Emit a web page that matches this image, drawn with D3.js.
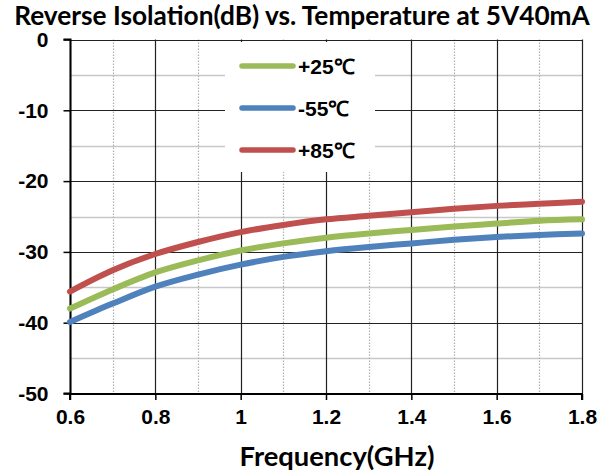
<!DOCTYPE html>
<html><head><meta charset="utf-8">
<script src="https://cdn.jsdelivr.net/npm/d3@7"></script>
<style>
body{margin:0;background:#fff;}
svg{display:block;}
</style></head>
<body>
<svg id="chart" width="603" height="473"></svg>
<script>
const title = "Reverse Isolation(dB) vs. Temperature at 5V40mA";
const xTitle = "Frequency(GHz)";
const freq = [0.6,0.7,0.8,0.9,1.0,1.1,1.2,1.3,1.4,1.5,1.6,1.7,1.8];
const s25 = [-38.0,-35.3,-32.9,-31.2,-29.8,-28.8,-28.0,-27.4,-26.9,-26.4,-26.0,-25.6,-25.4];
const sM55 = [-39.9,-37.3,-34.9,-33.2,-31.8,-30.7,-29.9,-29.3,-28.8,-28.3,-27.9,-27.6,-27.4];
const s85 = [-35.6,-32.6,-30.3,-28.6,-27.2,-26.2,-25.4,-24.9,-24.4,-23.9,-23.5,-23.2,-22.9];
const seriesNames = ["+25℃","-55℃","+85℃"];
const seriesColors = ["#9BBB59","#4F81BD","#C0504D"];
const xTicks = [0.6,0.8,1.0,1.2,1.4,1.6,1.8];
const xMinor = [0.7,0.9,1.1,1.3,1.5,1.7];
const yTicks = [0,-10,-20,-30,-40,-50];
const yMinor = [-5,-15,-25,-35,-45];

const svg = d3.select("#chart");
const L=70, R=582, T=39.5, B=393.5;
const x = d3.scaleLinear().domain([0.6,1.8]).range([L,R]);
const y = d3.scaleLinear().domain([-50,0]).range([B,T]);

// minor horizontal gridlines
svg.append("g").selectAll("line").data(yMinor).join("line")
  .attr("x1",L).attr("x2",R).attr("y1",d=>Math.round(y(d))+0.5).attr("y2",d=>Math.round(y(d))+0.5)
  .attr("stroke","#c8c8c8").attr("stroke-width",1.5);
// minor vertical dotted
svg.append("g").selectAll("line").data(xMinor).join("line")
  .attr("x1",d=>Math.round(x(d))+0.5).attr("x2",d=>Math.round(x(d))+0.5).attr("y1",T).attr("y2",B)
  .attr("stroke","#b0b0b0").attr("stroke-width",1.2).attr("stroke-dasharray","1.5,1.5");
// major gridlines
svg.append("g").selectAll("line").data(yTicks).join("line")
  .attr("x1",L).attr("x2",R).attr("y1",d=>Math.round(y(d))+0.5).attr("y2",d=>Math.round(y(d))+0.5)
  .attr("stroke","#222").attr("stroke-width",1.2);
svg.append("g").selectAll("line").data(xTicks).join("line")
  .attr("x1",d=>Math.round(x(d))+0.5).attr("x2",d=>Math.round(x(d))+0.5).attr("y1",T).attr("y2",B)
  .attr("stroke","#222").attr("stroke-width",1.2);

// axes
const yAxis = d3.axisLeft(y).tickValues(yTicks).tickSize(7).tickPadding(15).tickFormat(d=>String(d));
const gy = svg.append("g").attr("transform",`translate(${L+0.5},0)`).call(yAxis);
const xAxis = d3.axisBottom(x).tickValues(xTicks).tickSize(6).tickPadding(9).tickFormat(d=>d===1?"1":d3.format(".1f")(d));
const gx = svg.append("g").attr("transform",`translate(0,${B+0.5})`).call(xAxis);
[gx,gy].forEach(g=>{
  g.attr("font-size",null).attr("font-family",null);
  g.select(".domain").attr("stroke","#000").attr("stroke-width",2);
  g.selectAll(".tick line").attr("stroke","#000").attr("stroke-width",1.5);
  g.selectAll("text").style("font-family","'Liberation Sans', Arial, sans-serif")
   .style("font-weight","bold").style("font-size","21px").attr("fill","#000");
});
gy.select(".domain").attr("d",`M-7,${T}H0V${B}H-7`);
gx.select(".domain").attr("d",`M${L},6V0H${R}V6`);

// legend
const leg = svg.append("g");
leg.append("rect").attr("x",225).attr("y",42).attr("width",150).attr("height",130).attr("fill","#fff");
const series = [s25,sM55,s85];
const legY = [66,108,150];
seriesNames.forEach((n,i)=>{
  leg.append("line").attr("x1",242).attr("x2",293).attr("y1",legY[i]).attr("y2",legY[i])
    .attr("stroke",seriesColors[i]).attr("stroke-width",5.5).attr("stroke-linecap","round");
  leg.append("text").attr("x",298).attr("y",legY[i]+8).text(n)
    .style("font-family","'Liberation Sans', Arial, sans-serif").style("font-weight","bold")
    .style("font-size","21px").attr("fill","#000");
});

// lines
const line = d3.line().x((d,i)=>x(freq[i])).y(d=>y(d)).curve(d3.curveCatmullRom);
[sM55,s25,s85].forEach((s)=>{
  const idx = series.indexOf(s);
  svg.append("path").attr("d",line(s)).attr("fill","none")
    .attr("stroke",seriesColors[idx]).attr("stroke-width",6).attr("stroke-linecap","round");
});

// titles
const t = svg.append("text").attr("x",302).attr("y",25).attr("text-anchor","middle").text(title)
  .attr("font-family","Lato, 'Open Sans', sans-serif").attr("font-weight","bold").attr("font-size",21).attr("fill","#000");
const tw = t.node().getComputedTextLength();
t.attr("font-size",21*576/tw);
const xt = svg.append("text").attr("x",337).attr("y",466).attr("text-anchor","middle").text(xTitle)
  .attr("font-family","Lato, 'Open Sans', sans-serif").attr("font-weight","bold").attr("font-size",22).attr("fill","#000");
const xw = xt.node().getComputedTextLength();
xt.attr("font-size",22*195/xw);
</script>
</body></html>
